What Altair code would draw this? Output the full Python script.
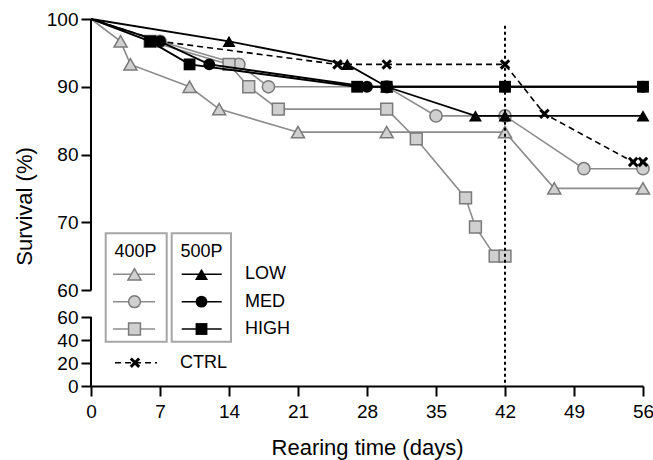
import altair as alt
import pandas as pd

FONT = "Liberation Sans"

# ---------------- data ----------------
days_400_low = [0, 3, 4, 10, 13, 21, 30, 42, 47, 56]
surv_400_low = [100, 96.7, 93.3, 90, 86.7, 83.3, 83.3, 83.3, 75, 75]

days_400_med = [0, 7, 15, 18, 30, 35, 42, 50, 56]
surv_400_med = [100, 96.7, 93.3, 90, 90, 85.7, 85.7, 77.9, 77.9]

days_400_high = [0, 6, 14, 16, 19, 30, 33, 38, 39, 41, 42]
surv_400_high = [100, 96.7, 93.3, 90, 86.7, 86.7, 82.3, 73.6, 69.3, 65, 65]

days_500_low = [0, 14, 26, 30, 39, 42, 56]
surv_500_low = [100, 96.7, 93.3, 90, 85.7, 85.7, 85.7]

days_500_med = [0, 7, 12, 28, 30, 42, 56]
surv_500_med = [100, 96.7, 93.3, 90, 90, 90, 90]

days_500_high = [0, 6, 10, 27, 30, 42, 56]
surv_500_high = [100, 96.7, 93.3, 90, 90, 90, 90]

days_ctrl = [0, 7, 25, 30, 42, 46, 55, 56]
surv_ctrl = [100, 96.7, 93.3, 93.3, 93.3, 86, 78.9, 78.9]

x_ticks = [0, 7, 14, 21, 28, 35, 42, 49, 56]
y_ticks = [0, 20, 40, 60, 60.001, 70, 80, 90, 100]
dose_labels = ["LOW", "MED", "HIGH"]
group_labels = ["400P", "500P"]
ctrl_label = "CTRL"
cutoff_day = 42

# ---------------- layout / style ----------------
W, H = 552, 367
GRAY_LINE = "#8c8c8c"
GRAY_FILL = "#d0d0d0"
GRAY_STROKE = "#7a7a7a"
X_SHAPE = "M-1,-1L1,1M1,-1L-1,1"

xscale = alt.Scale(domain=[0, 56], range=[0, W], nice=False, zero=False)
yscale = alt.Scale(domain=[0, 60, 60.001, 100], range=[H, 298, 271, 0],
                   nice=False, zero=False)

x_axis = alt.Axis(values=x_ticks, title="Rearing time (days)", grid=False,
                  labelFont=FONT, labelFontSize=19, labelColor="black",
                  labelPadding=6, labelFlush=False, labelOverlap=False,
                  tickSize=10, tickWidth=2, tickColor="black",
                  domainColor="black", domainWidth=2,
                  titleFont=FONT, titleFontSize=22, titleFontWeight="normal",
                  titleColor="black", titleBaseline="alphabetic", titleY=68)
y_axis = alt.Axis(values=y_ticks, format=".0f", title="Survival (%)", grid=False,
                  domain=False, labelFont=FONT, labelFontSize=19,
                  labelColor="black", labelPadding=3, labelOverlap=False,
                  labelFlush=False,
                  tickSize=10, tickWidth=2, tickColor="black",
                  titleFont=FONT, titleFontSize=22, titleFontWeight="normal",
                  titleColor="black", titleBaseline="alphabetic",
                  titleX=-60, titleY=187, titleAlign="center", titleAngle=270)


def X(field):
    return alt.X(field, type="quantitative", scale=xscale, axis=x_axis)


def Y(field):
    return alt.Y(field, type="quantitative", scale=yscale, axis=y_axis)


def series(days, surv, line_kw, point_kw):
    df = pd.DataFrame({"day": days, "surv": surv})
    base = alt.Chart(df).encode(x=X("day"), y=Y("surv"))
    line = base.mark_line(**line_kw)
    pts = base.transform_filter("datum.day > 0").mark_point(opacity=1, **point_kw)
    return [line, pts]


gray_line = dict(color=GRAY_LINE, strokeWidth=1.6)
black_line = dict(color="black", strokeWidth=1.8)
ctrl_line = dict(color="black", strokeWidth=1.6, strokeDash=[6, 4])


def gray_pt(shape, size):
    return dict(shape=shape, filled=True, fill=GRAY_FILL, stroke=GRAY_STROKE,
                strokeWidth=1.5, size=size)


def black_pt(shape, size):
    return dict(shape=shape, filled=True, color="black", size=size)


ctrl_pt = dict(shape=X_SHAPE, filled=False, stroke="black", strokeWidth=3, size=70)

layers = []
layers += series(days_400_low, surv_400_low, gray_line, gray_pt("triangle-up", 170))
layers += series(days_400_med, surv_400_med, gray_line, gray_pt("circle", 150))
layers += series(days_400_high, surv_400_high, gray_line, gray_pt("square", 140))
layers += series(days_500_low, surv_500_low, black_line, black_pt("triangle-up", 170))
layers += series(days_500_med, surv_500_med, black_line, black_pt("circle", 140))
layers += series(days_500_high, surv_500_high, black_line, black_pt("square", 140))
layers += series(days_ctrl, surv_ctrl, ctrl_line, ctrl_pt)

# dotted vertical line at day 42
vline_df = pd.DataFrame({"day": [cutoff_day], "top": [99], "bottom": [0]})
layers.append(alt.Chart(vline_df).mark_rule(color="black", strokeWidth=2, strokeDash=[3, 3])
              .encode(x=X("day"), y=Y("top"), y2="bottom"))

# broken y-axis line
yline_df = pd.DataFrame({"day": [0, 0], "a": [100, 60], "b": [60.001, 0]})
layers.append(alt.Chart(yline_df).mark_rule(color="black", strokeWidth=2)
              .encode(x=X("day"), y=Y("a"), y2="b"))

# ---------------- hand-drawn legend (pixel positions) ----------------
px = dict(scale=None, axis=None)
box_df = pd.DataFrame({"x": [14.7, 80.7], "x2": [75.7, 140.0],
                       "y": [214.3, 214.3], "y2": [322.7, 322.7]})
layers.append(alt.Chart(box_df).mark_rect(filled=False, stroke="#a6a6a6", strokeWidth=2)
              .encode(x=alt.X("x:Q", **px), x2="x2", y=alt.Y("y:Q", **px), y2="y2"))

head_df = pd.DataFrame({"x": [44.5, 110.5], "y": [232.7, 232.7], "t": group_labels})
text_kw = dict(font=FONT, fontSize=18, color="black", baseline="middle")
layers.append(alt.Chart(head_df).mark_text(align="center", **text_kw)
              .encode(x=alt.X("x:Q", **px), y=alt.Y("y:Q", **px), text="t:N"))

row_y = [255.3, 282.7, 310.0]
lab_df = pd.DataFrame({"x": [154] * 3, "y": row_y, "t": dose_labels})
layers.append(alt.Chart(lab_df).mark_text(align="left", **text_kw)
              .encode(x=alt.X("x:Q", **px), y=alt.Y("y:Q", **px), text="t:N"))

for x0, x1, xm, col, ptf, shapes in [
    (22, 64, 43.5, GRAY_LINE, gray_pt, ["triangle-up", "circle", "square"]),
    (90.7, 130.7, 110.5, "black", black_pt, ["triangle-up", "circle", "square"]),
]:
    for yy, shp in zip(row_y, shapes):
        d = pd.DataFrame({"x": [x0], "x2": [x1], "xm": [xm], "y": [yy]})
        layers.append(alt.Chart(d).mark_rule(color=col, strokeWidth=1.6)
                      .encode(x=alt.X("x:Q", **px), x2="x2", y=alt.Y("y:Q", **px)))
        size = 170 if shp == "triangle-up" else 140
        layers.append(alt.Chart(d).mark_point(opacity=1, **ptf(shp, size))
                      .encode(x=alt.X("xm:Q", **px), y=alt.Y("y:Q", **px)))

ctrl_df = pd.DataFrame({"x": [24], "x2": [66], "xm": [44], "y": [343.7],
                        "tx": [89], "t": [ctrl_label]})
layers.append(alt.Chart(ctrl_df).mark_rule(color="black", strokeWidth=1.6, strokeDash=[6, 4])
              .encode(x=alt.X("x:Q", **px), x2="x2", y=alt.Y("y:Q", **px)))
layers.append(alt.Chart(ctrl_df).mark_point(opacity=1, **ctrl_pt)
              .encode(x=alt.X("xm:Q", **px), y=alt.Y("y:Q", **px)))
layers.append(alt.Chart(ctrl_df).mark_text(align="left", **text_kw)
              .encode(x=alt.X("tx:Q", **px), y=alt.Y("y:Q", **px), text="t:N"))

chart = alt.layer(*layers).properties(
    width=W, height=H,
    autosize=alt.AutoSizeParams(type="none"),
    padding={"left": 91, "top": 19, "right": 10, "bottom": 74},
    background="white",
).configure_view(stroke=None)

chart.save("out.html", embed_options={"renderer": "svg", "actions": False})
